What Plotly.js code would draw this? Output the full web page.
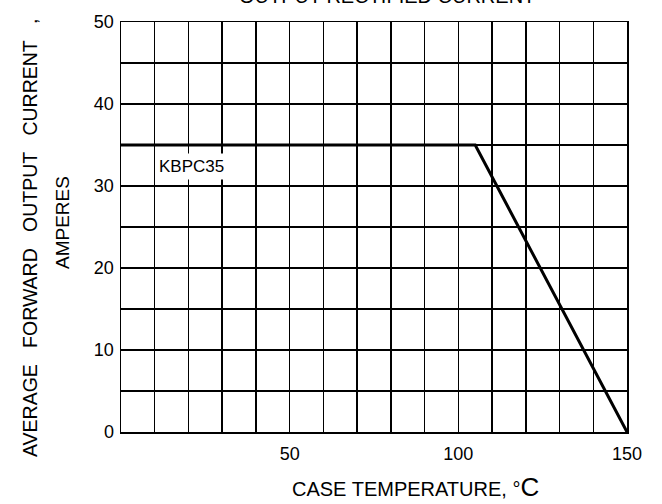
<!DOCTYPE html>
<html>
<head>
<meta charset="utf-8">
<script src="https://cdn.plot.ly/plotly-3.0.1.min.js"></script>
<style>html,body{margin:0;padding:0;background:#fff;}#chart{width:662px;height:504px;}</style>
</head>
<body>
<div id="chart"></div>
<script>
// Derating curve: case temperature (°C) vs average forward output current (A)
const caseTemp = [0, 105, 150];
const outputCurrent = [35, 35, 0];
const seriesName = "KBPC35";
const xTickVals = [50, 100, 150];
const yTickVals = [0, 10, 20, 30, 40, 50];

const FONT = "Liberation Sans, Arial, sans-serif";
const NB = "\u00A0";
const gap3 = NB + NB + NB;
const yTitle1 = ["AVERAGE", "FORWARD", "OUTPUT", "CURRENT"].join(gap3) + gap3 + ",";

const trace = {
  x: caseTemp,
  y: outputCurrent,
  mode: "lines",
  type: "scatter",
  line: {color: "#000", width: 3},
  hoverinfo: "none",
  cliponaxis: false
};

const layout = {
  width: 662,
  height: 504,
  margin: {l: 121, r: 35, t: 22, b: 72},
  paper_bgcolor: "#fff",
  plot_bgcolor: "#fff",
  showlegend: false,
  font: {family: FONT, color: "#000", size: 18},
  xaxis: {
    range: [0, 150],
    tickvals: xTickVals,
    ticks: "",
    showgrid: true,
    gridcolor: "#000",
    gridwidth: 1.5,
    minor: {dtick: 10, tick0: 0, showgrid: true, gridcolor: "#000", gridwidth: 1.5},
    showline: true,
    linecolor: "#000",
    linewidth: 1.5,
    mirror: true,
    zeroline: false,
    tickfont: {size: 18, family: FONT},
    ticklabelstandoff: 5,
    fixedrange: true
  },
  yaxis: {
    range: [0, 50],
    tickvals: yTickVals,
    ticks: "",
    showgrid: true,
    gridcolor: "#000",
    gridwidth: 1.5,
    minor: {dtick: 5, tick0: 0, showgrid: true, gridcolor: "#000", gridwidth: 1.5},
    showline: true,
    linecolor: "#000",
    linewidth: 1.5,
    mirror: true,
    zeroline: false,
    tickfont: {size: 18, family: FONT},
    ticklabelstandoff: 2,
    fixedrange: true
  },
  annotations: [
    {
      text: "OUTPUT RECTIFIED CURRENT",
      xref: "paper", yref: "paper", x: 0.5, y: 1,
      xanchor: "center", yanchor: "bottom", xshift: 13, yshift: 13,
      showarrow: false, font: {size: 20, family: FONT}
    },
    {
      text: yTitle1,
      xref: "paper", yref: "paper", x: 0, y: 0.5,
      xanchor: "center", yanchor: "middle", xshift: -91, yshift: -11,
      textangle: -90, showarrow: false, font: {size: 19.5, family: FONT}
    },
    {
      text: "AMPERES",
      xref: "paper", yref: "paper", x: 0, y: 0.5,
      xanchor: "center", yanchor: "middle", xshift: -59, yshift: 4,
      textangle: -90, showarrow: false, font: {size: 19, family: FONT}
    },
    {
      text: "CASE TEMPERATURE, °<span style='font-size:26px'>C</span>",
      xref: "paper", yref: "paper", x: 0, y: 0,
      xanchor: "left", yanchor: "middle", xshift: 169, yshift: -55,
      showarrow: false, font: {size: 20, family: FONT}
    },
    {
      text: seriesName,
      xref: "x", yref: "y", x: 21, y: 32.4,
      xanchor: "center", yanchor: "middle",
      showarrow: false, bgcolor: "#fff", borderpad: 3,
      font: {size: 17, family: FONT}
    }
  ]
};

Plotly.newPlot("chart", [trace], layout, {staticPlot: true, displayModeBar: false});
</script>
</body>
</html>
